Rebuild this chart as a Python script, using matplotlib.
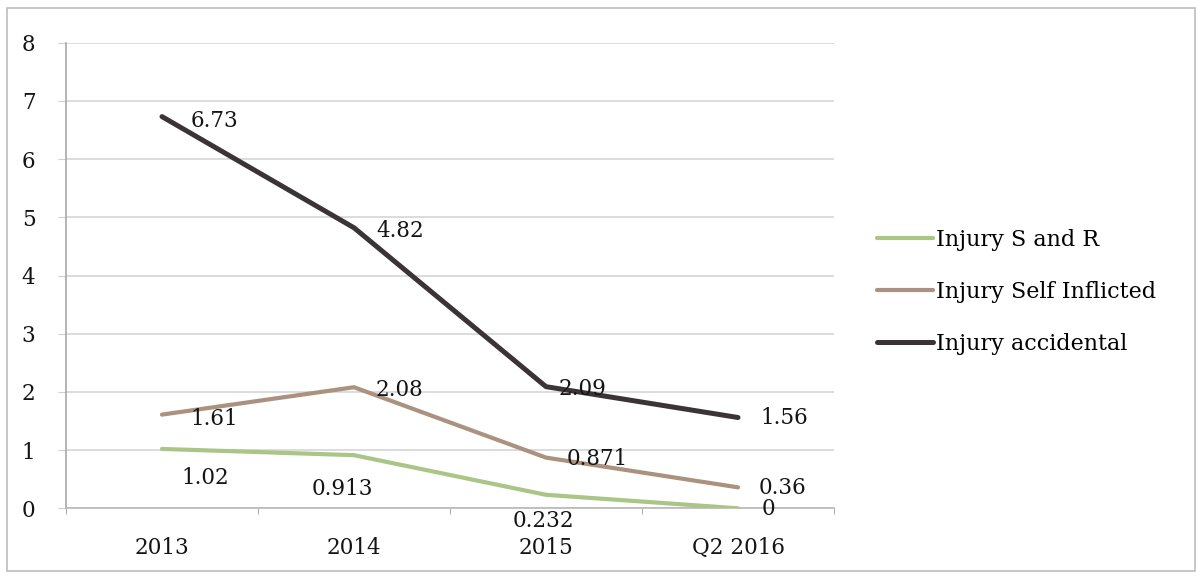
import matplotlib
matplotlib.use("Agg")
import matplotlib.pyplot as plt
from matplotlib.patches import Rectangle

# --- data ---
periods = ["2013", "2014", "2015", "Q2 2016"]
series_names = ["Injury S and R", "Injury Self Inflicted", "Injury accidental"]
s_and_r = [1.02, 0.913, 0.232, 0]
self_inflicted = [1.61, 2.08, 0.871, 0.36]
accidental = [6.73, 4.82, 2.09, 1.56]
y_ticks = [0, 1, 2, 3, 4, 5, 6, 7, 8]

# --- styling ---
colors = ["#a9c686", "#ab9280", "#3a3436"]
widths = [3.0, 3.0, 3.6]
# label offsets in pixels (dx to text centre, dy downward)
label_offsets = [
    [(43, 29), (-12, 34), (-3, 26), (30, 1)],
    [(52, 4), (45, 3), (51, 1), (45, 1)],
    [(52, 4), (46, 3), (37, 2), (46, 0)],
]
font = "DejaVu Serif"
fsize = 15.5

fig = plt.figure(figsize=(11.98, 5.76), dpi=100, facecolor="white")
ax = fig.add_axes([66 / 1198, 1 - 508.3 / 576, 768 / 1198, 465.6 / 576])

x = list(range(len(periods)))
all_series = [s_and_r, self_inflicted, accidental]
for vals, name, col, lw, offs in zip(all_series, series_names, colors, widths, label_offsets):
    ax.plot(x, vals, color=col, linewidth=lw, solid_capstyle="round",
            solid_joinstyle="round", label=name, zorder=3)
    for xi, v, (dx, dy) in zip(x, vals, offs):
        ax.annotate(f"{v:g}", (xi, v), xytext=(dx, -dy), textcoords="offset pixels",
                    ha="center", va="center", fontsize=fsize, family=font,
                    color="#141414", zorder=4)

ax.set_xlim(-0.5, len(periods) - 0.5)
ax.set_ylim(0, 8)
ax.set_yticks(y_ticks)
ax.set_yticklabels([str(t) for t in y_ticks], family=font, fontsize=fsize, color="#141414")
ax.set_xticks(x)
ax.set_xticklabels(periods, family=font, fontsize=fsize, color="#141414")
ax.set_xticks([i - 0.5 for i in range(len(periods) + 1)], minor=True)
ax.tick_params(axis="x", which="major", length=0, pad=21)
ax.tick_params(axis="x", which="minor", length=4, color="#9a9a9a", direction="out")
ax.tick_params(axis="y", length=6, color="#d0d0d0", pad=16)

ax.grid(axis="y", color="#d6d6d6", linewidth=1.2)
ax.set_axisbelow(True)
for side in ["top", "right"]:
    ax.spines[side].set_visible(False)
ax.spines["left"].set_color("#a8a8a8")
ax.spines["bottom"].set_color("#b8b8b8")
ax.spines["left"].set_linewidth(1.2)
ax.spines["bottom"].set_linewidth(1.2)

leg = fig.legend(loc="center left", bbox_to_anchor=(877 / 1198, 1 - 292 / 576),
                 frameon=False, prop={"family": font, "size": 16},
                 handlelength=2.5, handletextpad=0.15, labelspacing=1.35,
                 borderpad=0, borderaxespad=0)

# outer chart frame
fig.patches.append(Rectangle((7 / 1198, 5 / 576), 1188 / 1198, 563 / 576,
                             transform=fig.transFigure, fill=False,
                             edgecolor="#bdbdbd", linewidth=1.2))

fig.savefig("out.png", dpi=100, facecolor="white")
